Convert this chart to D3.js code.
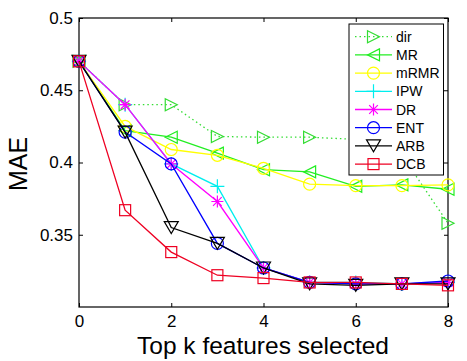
<!DOCTYPE html>
<html><head><meta charset="utf-8">
<script src="https://cdn.jsdelivr.net/npm/d3@7"></script>
<style>body{margin:0;background:#fff}svg{display:block}text{font-family:"Liberation Sans",Arial,sans-serif}</style>
</head><body><svg id="c" width="467" height="361"></svg>
<script>
const xValues = [0,1,2,3,4,5,6,7,8];
const seriesNames = ["dir","MR","mRMR","IPW","DR","ENT","ARB","DCB"];
const dirVals  = [0.470,0.440,0.440,0.418,0.4175,0.4175,0.416,0.405,0.358];
const mrVals   = [0.470,0.422,0.4175,0.4065,0.395,0.3935,0.3835,0.3845,0.3815];
const mrmrVals = [0.470,0.425,0.409,0.405,0.396,0.385,0.384,0.384,0.3845];
const ipwVals  = [0.470,0.440,0.399,0.3835,0.327,0.317,0.317,0.316,0.317];
const drVals   = [0.470,0.440,0.399,0.373,0.327,0.317,0.316,0.316,0.317];
const entVals  = [0.470,0.421,0.399,0.344,0.327,0.317,0.316,0.316,0.318];
const arbVals  = [0.470,0.421,0.355,0.344,0.327,0.316,0.315,0.316,0.316];
const dcbVals  = [0.470,0.367,0.338,0.322,0.320,0.317,0.317,0.316,0.315];
const xTicks = [0,2,4,6,8];
const yTicks = [0.35,0.4,0.45,0.5];
const yTickLabels = ["0.35","0.4","0.45","0.5"];

const styles = [
  {color:"#33dd33", dash:"1.5,3", marker:"triR"},
  {color:"#22ee22", dash:null, marker:"triL"},
  {color:"#ffff00", dash:null, marker:"circle"},
  {color:"#00eeee", dash:null, marker:"plus"},
  {color:"#ff00ff", dash:null, marker:"star"},
  {color:"#0000ff", dash:null, marker:"circle"},
  {color:"#000000", dash:null, marker:"triD"},
  {color:"#ee0022", dash:null, marker:"square"}
];
const allVals = [dirVals,mrVals,mrmrVals,ipwVals,drVals,entVals,arbVals,dcbVals];

const L=79, R=448, T=18, B=307;
const x = d3.scaleLinear().domain([0,8]).range([L,R]);
const y = d3.scaleLinear().domain([0.30,0.50]).range([B,T]);
const svg = d3.select("#c");

svg.append("rect").attr("x",L).attr("y",T).attr("width",R-L).attr("height",B-T)
  .attr("fill","none").attr("stroke","#000").attr("stroke-width",1.2);

const axB = svg.append("g").attr("transform",`translate(0,${B})`)
  .call(d3.axisBottom(x).tickValues(xTicks).tickFormat(d3.format("d")).tickSizeInner(-4).tickSizeOuter(0).tickPadding(8));
const axT = svg.append("g").attr("transform",`translate(0,${T})`)
  .call(d3.axisTop(x).tickValues(xTicks).tickFormat("").tickSizeInner(-4).tickSizeOuter(0));
const axL = svg.append("g").attr("transform",`translate(${L},0)`)
  .call(d3.axisLeft(y).tickValues(yTicks).tickFormat((d,i)=>yTickLabels[i]).tickSizeInner(-4).tickSizeOuter(0).tickPadding(6));
const axR = svg.append("g").attr("transform",`translate(${R},0)`)
  .call(d3.axisRight(y).tickValues(yTicks).tickFormat("").tickSizeInner(-4).tickSizeOuter(0));
[axB,axT,axL,axR].forEach(a=>{a.select(".domain").remove();a.selectAll("line").attr("stroke","#000");
  a.selectAll("text").attr("font-size",17).attr("fill","#000").attr("font-family","Liberation Sans, Arial, sans-serif");});
axB.selectAll("text").attr("dy","0.71em");

svg.append("text").attr("x",263).attr("y",354).attr("text-anchor","middle").attr("font-size",24.5).text("Top k features selected");
svg.append("text").attr("transform","translate(27,164) rotate(-90)").attr("text-anchor","middle").attr("font-size",25).text("MAE");

function drawMarker(g, type, cx, cy, color){
  const s=6;
  const common = p=>p.attr("fill","none").attr("stroke",color).attr("stroke-width",1.2);
  if(type==="circle") common(g.append("circle").attr("cx",cx).attr("cy",cy).attr("r",s));
  else if(type==="square") common(g.append("rect").attr("x",cx-5.5).attr("y",cy-5.5).attr("width",11).attr("height",11));
  else if(type==="triR") common(g.append("path").attr("d",`M${cx-s},${cy-s}L${cx+s},${cy}L${cx-s},${cy+s}Z`));
  else if(type==="triL") common(g.append("path").attr("d",`M${cx+s},${cy-s}L${cx-s},${cy}L${cx+s},${cy+s}Z`));
  else if(type==="triD") common(g.append("path").attr("d",`M${cx-s-1},${cy-s}L${cx+s+1},${cy-s}L${cx},${cy+s}Z`));
  else if(type==="plus") common(g.append("path").attr("d",`M${cx-s-1},${cy}H${cx+s+1}M${cx},${cy-s-1}V${cy+s+1}`));
  else if(type==="star"){
    let d=`M${cx-s},${cy}H${cx+s}M${cx},${cy-s}V${cy+s}`;
    const a=s*0.72; d+=`M${cx-a},${cy-a}L${cx+a},${cy+a}M${cx-a},${cy+a}L${cx+a},${cy-a}`;
    common(g.append("path").attr("d",d));
  }
}

const line = d3.line().x((d,i)=>x(xValues[i])).y(d=>y(d));
allVals.forEach((vals,k)=>{
  const st=styles[k];
  const g=svg.append("g");
  const p=g.append("path").datum(vals).attr("d",line).attr("fill","none").attr("stroke",st.color).attr("stroke-width",1.3);
  if(st.dash) p.attr("stroke-dasharray",st.dash);
  vals.forEach((v,i)=>drawMarker(g,st.marker,x(xValues[i]),y(v),st.color));
});

const lg = svg.append("g");
lg.append("rect").attr("x",349).attr("y",24).attr("width",94.5).attr("height",151).attr("fill","#fff").attr("stroke","#000").attr("stroke-width",1);
seriesNames.forEach((n,k)=>{
  const st=styles[k]; const yy=36.7+k*18.2;
  const l=lg.append("line").attr("x1",355).attr("x2",392).attr("y1",yy).attr("y2",yy).attr("stroke",st.color).attr("stroke-width",1.3);
  if(st.dash) l.attr("stroke-dasharray",st.dash);
  drawMarker(lg,st.marker,373.5,yy,st.color);
  lg.append("text").attr("x",396).attr("y",yy).attr("dy","0.36em").attr("font-size",14).text(n);
});
</script></body></html>
